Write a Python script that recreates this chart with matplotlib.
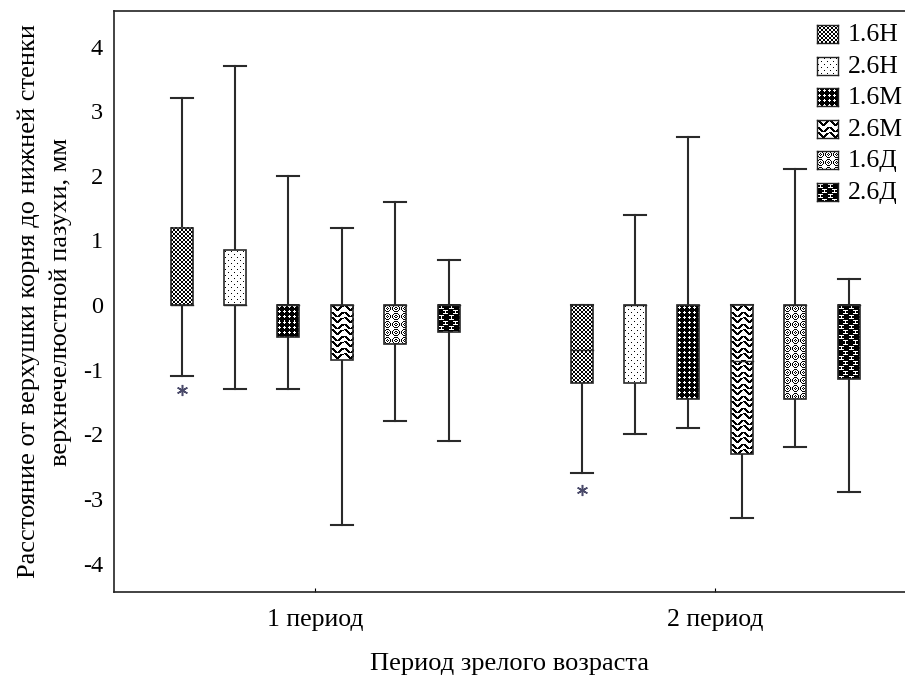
import matplotlib.pyplot as plt
import numpy as np
from matplotlib.patches import Rectangle

plt.rcParams['font.family'] = ['Liberation Serif', 'DejaVu Serif']
plt.rcParams['axes.unicode_minus'] = False

# Box plot summaries (min, q1, median, q3, max) per group and period
periods = ["1 период", "2 период"]
groups = ["1.6Н", "2.6Н", "1.6М", "2.6М", "1.6Д", "2.6Д"]
p1_min = [-1.1, -1.3, -1.3, -3.4, -1.8, -2.1]
p1_q1 = [0.0, 0.0, -0.5, -0.85, -0.6, -0.42]
p1_med = [0.0, 0.0, 0.0, 0.0, 0.0, 0.0]
p1_q3 = [1.2, 0.85, 0.0, 0.0, 0.0, 0.0]
p1_max = [3.2, 3.7, 2.0, 1.2, 1.6, 0.7]
p2_min = [-2.6, -2.0, -1.9, -3.3, -2.2, -2.9]
p2_q1 = [-1.2, -1.2, -1.45, -2.3, -1.45, -1.15]
p2_med = [-0.7, 0.0, 0.0, -0.87, 0.0, 0.0]
p2_q3 = [0.0, 0.0, 0.0, 0.0, 0.0, 0.0]
p2_max = [0.0, 1.4, 2.6, 0.0, 2.1, 0.4]
# outliers: (period index, group index, value)
outliers = [(0, 0, -1.32), (1, 0, -2.86)]

# pixel tiles for the fill patterns ('#' = black)
tiles = {
    "1.6Н": ["##..",
             "##..",
             "..##",
             "..##"],
    "2.6Н": ["......",
             ".#....",
             "......",
             "......",
             "....#.",
             "......"],
    "1.6М": ["#####",
             "##.##",
             "#...#",
             "##.##",
             "#####"],
    "2.6М": ["###.........",
             ".###.....###",
             "..###...###.",
             "...###.###..",
             "....#####...",
             ".....###....",
             "............",
             "###.......##",
             ".###.....###",
             "..###...###.",
             "...###.###..",
             "....#####..."],
    "1.6Д": ["..###...",
             ".#...#..",
             "#..#..#.",
             "#.#.#.#.",
             "#..#..#.",
             ".#...#..",
             "..###...",
             "........"],
    "2.6Д": ["##########",
             "#.....####",
             "###.######",
             "###.######",
             "#.....####",
             "##########",
             "#####.....",
             "#######.##",
             "#######.##",
             "#####....."],
}


def tile_array(key, h, w):
    t = np.array([[0.0 if c == "#" else 1.0 for c in row] for row in tiles[key]])
    reps = (int(np.ceil(h / t.shape[0])) + 1, int(np.ceil(w / t.shape[1])) + 1)
    return np.tile(t, reps)[:max(h, 1), :max(w, 1)]


fig = plt.figure(figsize=(9.05, 6.76), dpi=100)
ax = fig.add_axes([114 / 905, 84 / 676, 1 - 114 / 905, 581 / 676])
ax.set_xlim(0.4975, 2.475)
ax.set_ylim(-4.44, 4.55)

stats = [(p1_min, p1_q1, p1_med, p1_q3, p1_max),
         (p2_min, p2_q1, p2_med, p2_q3, p2_max)]
step = 0.1335
bw = 0.055
lc = "#2a2a2a"

fig.canvas.draw()
for pi, (mn, q1, md, q3, mx) in enumerate(stats):
    for gi, key in enumerate(groups):
        x = pi + 1 + (gi - 2.5) * step
        ax.plot([x, x], [mn[gi], mx[gi]], color=lc, lw=1.5, zorder=1)
        for v in (mn[gi], mx[gi]):
            ax.plot([x - bw / 2, x + bw / 2], [v, v], color=lc, lw=1.5, zorder=1)
        y0, y1 = q1[gi], q3[gi]
        p0 = ax.transData.transform((x - bw / 2, y0))
        p1 = ax.transData.transform((x + bw / 2, y1))
        w = int(round(abs(p1[0] - p0[0])))
        h = int(round(abs(p1[1] - p0[1])))
        img = tile_array(key, h, w)
        ax.imshow(img, cmap="gray", vmin=0, vmax=1, interpolation="nearest",
                  extent=(x - bw / 2, x + bw / 2, y0, y1), aspect="auto",
                  origin="upper", zorder=2)
        ax.add_patch(Rectangle((x - bw / 2, y0), bw, y1 - y0, fill=False,
                               edgecolor=lc, lw=1.2, zorder=3))
        ax.plot([x - bw / 2, x + bw / 2], [md[gi], md[gi]], color=lc, lw=1.0, zorder=3)

for pi, gi, v in outliers:
    x = pi + 1 + (gi - 2.5) * step
    ax.plot(x, v, marker=(6, 2, 0), color="#4a4a6a", ms=8, mew=1.1, zorder=4)

ax.set_xlim(0.4975, 2.475)
ax.set_ylim(-4.44, 4.55)
ax.set_xticks([1, 2])
ax.set_xticklabels(periods, fontsize=18.5)
ax.tick_params(axis="x", direction="in", length=3, pad=12)
ax.set_yticks(np.arange(-4, 5))
ax.tick_params(axis="y", length=0, pad=8, labelsize=17.5)
ax.spines["right"].set_visible(False)
for s in ("left", "top", "bottom"):
    ax.spines[s].set_linewidth(1.2)
    ax.spines[s].set_color("#222222")

ax.set_xlabel("Период зрелого возраста", fontsize=19, labelpad=16)
ax.set_ylabel("Расстояние от верхушки корня до нижней стенки\nверхнечелюстной пазухи, мм",
              fontsize=19, labelpad=8, linespacing=1.5)

# legend swatches in the upper right corner
for i, key in enumerate(groups):
    top = 25 + i * 31.6
    sax = fig.add_axes([817 / 905, 1 - (top + 18) / 676, 21 / 905, 18 / 676])
    sax.imshow(tile_array(key, 18, 21), cmap="gray", vmin=0, vmax=1,
               interpolation="nearest", aspect="auto")
    sax.set_xticks([])
    sax.set_yticks([])
    for s in sax.spines.values():
        s.set_linewidth(1.0)
        s.set_color("#222222")
    fig.text(848 / 905, 1 - (top + 10) / 676, key, fontsize=18.5, va="center", ha="left")

fig.savefig("out.png", dpi=100)
